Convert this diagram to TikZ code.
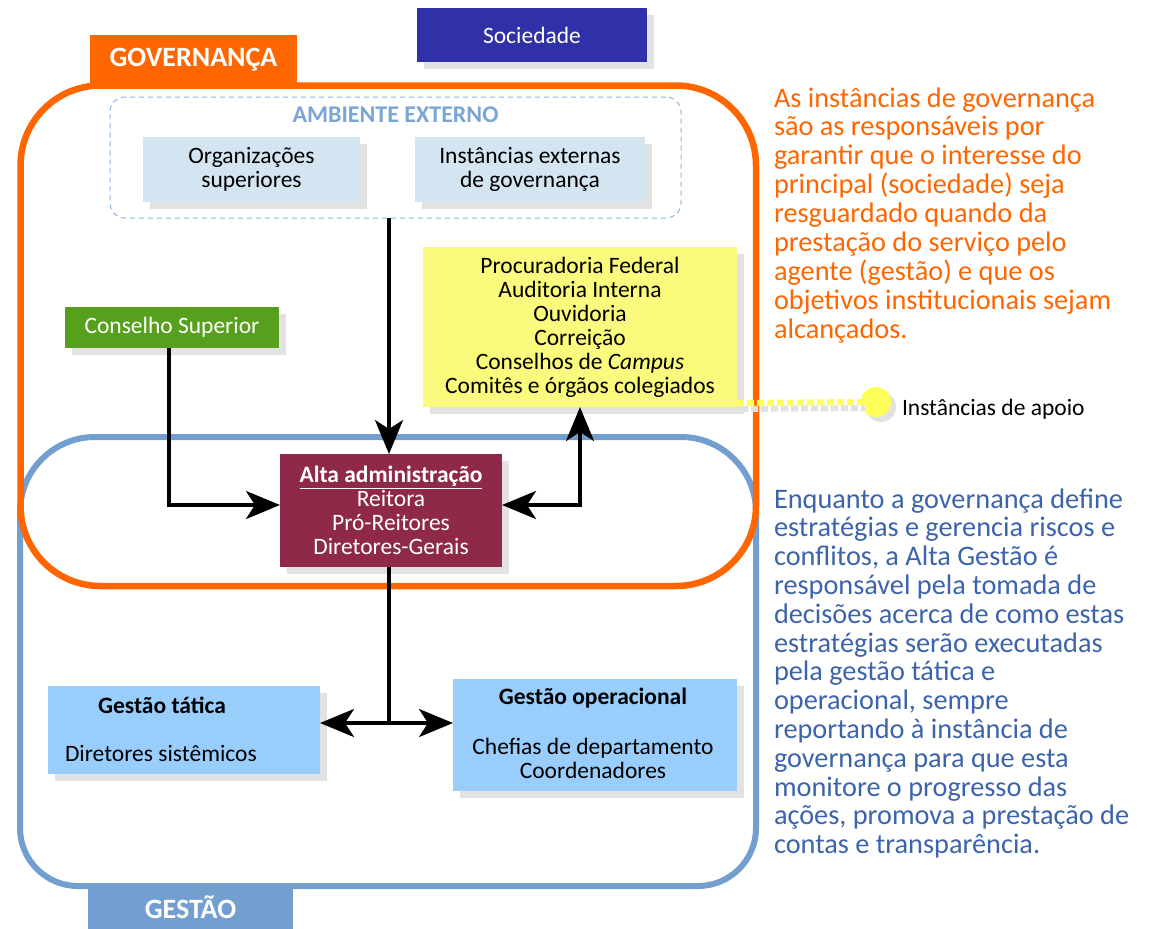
\documentclass[tikz,border=0pt]{standalone}
\usepackage{fontspec}
\setmainfont{Carlito}
\usetikzlibrary{arrows.meta,shadows}
\definecolor{orng}{RGB}{255,102,0}
\definecolor{gblue}{RGB}{114,159,207}
\definecolor{socblue}{RGB}{48,48,168}
\definecolor{ambtitle}{RGB}{122,166,214}
\definecolor{lightbox}{RGB}{211,229,241}
\definecolor{yelbox}{RGB}{250,250,125}
\definecolor{yeldot}{RGB}{255,255,90}
\definecolor{grn}{RGB}{86,160,30}
\definecolor{maroon}{RGB}{142,42,72}
\definecolor{gestbox}{RGB}{153,206,252}
\definecolor{shgray}{RGB}{226,226,226}
\definecolor{txtblue}{RGB}{60,100,170}
\definecolor{dashblue}{RGB}{140,180,225}
\begin{document}
\begin{tikzpicture}[x=1pt,y=-1pt,
  box/.style={inner sep=0pt, outer sep=0pt, align=center, font=\fontsize{23.5}{24}\selectfont},
  shad/.style={drop shadow={shadow xshift=7pt,shadow yshift=-7pt,fill=shgray,opacity=1}},
  label/.style={inner sep=0pt, outer sep=0pt, text=white, font=\bfseries\fontsize{28}{30}\selectfont},
  conn/.style={line width=3.5pt, black},
  big/.tip={Stealth[length=34pt,width=28pt,inset=9pt]},
  sidetext/.style={inner sep=0pt, outer sep=0pt, anchor=base west, font=\fontsize{28.3}{28.8}\selectfont},
]
\path[use as bounding box, fill=white] (0,0) rectangle (1157,929);

% frame labels
\node[label, fill=orng, minimum width=207pt, minimum height=49pt] (gov) at (193.5,59.5) {GOVERNANÇA};
\node[label, fill=gblue, minimum width=205pt, minimum height=43pt] (gest) at (190.5,907.5) {GESTÃO};

% frames
\draw[gblue, line width=6pt] (20,660) [rounded corners=75pt] -- (20,437) -- (756,437) -- (756,700) [rounded corners=58pt] -- (756,886) -- (20,886) -- cycle;
\draw[orng, line width=6.5pt, rounded corners=80pt] (20.5,85.5) rectangle (756,586);

% society
\node[box, shad, fill=socblue, text=white, minimum width=230pt, minimum height=54pt] (soc) at (532,35) {Sociedade};

% external environment
\node[draw=dashblue, line width=1pt, dash pattern=on 5pt off 4pt, rounded corners=15pt, minimum width=571pt, minimum height=121pt, inner sep=0pt, outer sep=0pt] (amb) at (395.5,157.5) {};
\node[inner sep=0pt, text=ambtitle, font=\bfseries\fontsize{24}{26}\selectfont] (ambt) at (395.5,115) {AMBIENTE EXTERNO};
\node[box, shad, fill=lightbox, minimum width=217pt, minimum height=65pt] (org) at (251.5,169.5) {Organizações\\superiores};
\node[box, shad, fill=lightbox, minimum width=230pt, minimum height=65pt] (ext) at (530,169.5) {Instâncias externas\\de governança};

% support
\node[box, shad, fill=yelbox, minimum width=314pt, minimum height=160pt] (yel) at (580,327) {Procuradoria Federal\\Auditoria Interna\\Ouvidoria\\Correição\\Conselhos de \textit{Campus}\\Comitês e órgãos colegiados};
\node[box, shad, fill=grn, text=white, minimum width=214pt, minimum height=41pt] (cons) at (172,327.5) {Conselho Superior};
\node[box, shad, fill=maroon, text=white, minimum width=222pt, minimum height=113pt] (alta) at (391,510.5) {\textbf{\underline{Alta administração}}\\Reitora\\Pró-Reitores\\Diretores-Gerais};

% management
\node[box, shad, fill=gestbox, minimum width=272pt, minimum height=88pt] (tat) at (184,730) {};
\node[box, font=\bfseries\fontsize{23.5}{24}\selectfont] (tatt) at (162,705) {Gestão tática};
\node[box, anchor=west] (tatd) at (65,753) {Diretores sistêmicos};
\node[box, shad, fill=gestbox, minimum width=284pt, minimum height=112pt] (op) at (595,735) {};
\node[box, font=\bfseries\fontsize{23.5}{24}\selectfont] (opt) at (593,698) {Gestão operacional};
\node[box] (opd) at (593,758) {Chefias de departamento\\Coordenadores};

% support marker
\coordinate (dl) at (0,403);
\node[circle, fill=yeldot, minimum size=30pt, inner sep=0pt, outer sep=0pt, drop shadow={shadow xshift=5pt,shadow yshift=-5pt,fill=shgray,opacity=1}] (circ) at (876,402) {};
\draw[shgray, line width=6pt, dash pattern=on 7pt off 3pt] ([xshift=4pt,yshift=-6pt]yel.east |- dl) -- ([xshift=4pt,yshift=-6pt]circ.west);
\draw[yeldot, line width=6pt, dash pattern=on 7pt off 3pt] (yel.east |- dl) -- (circ.west);
\node[box, anchor=base west] (apoio) at (902,415) {Instâncias de apoio};

% connectors
\coordinate (vx) at (389,0);
\coordinate (c1) at (169,505);
\coordinate (c2) at (580,505);
\coordinate (c3) at (389,723);
\draw[conn, -big] (amb.south -| vx) -- (alta.north -| vx);
\draw[conn, -big] (cons.south -| c1) |- (alta.west |- c1);
\draw[conn, big-big] (alta.east |- c2) -| (yel.south -| c2);
\draw[conn] (alta.south -| c3) -- (c3);
\draw[conn, big-big] (tat.east |- c3) -- (op.west |- c3);

% side texts
\node[sidetext, text=orng] (gtext) at (774,107) {\begin{tabular}[t]{@{}l@{}}As instâncias de governança\\são as responsáveis por\\garantir que o interesse do\\principal (sociedade) seja\\resguardado quando da\\prestação do serviço pelo\\agente (gestão) e que os\\objetivos institucionais sejam\\alcançados.\end{tabular}};
\node[sidetext, text=txtblue] (mtext) at (774,508) {\begin{tabular}[t]{@{}l@{}}Enquanto a governança define\\estratégias e gerencia riscos e\\conflitos, a Alta Gestão é\\responsável pela tomada de\\decisões acerca de como estas\\estratégias serão executadas\\pela gestão tática e\\operacional, sempre\\reportando à instância de\\governança para que esta\\monitore o progresso das\\ações, promova a prestação de\\contas e transparência.\end{tabular}};
\end{tikzpicture}
\end{document}
